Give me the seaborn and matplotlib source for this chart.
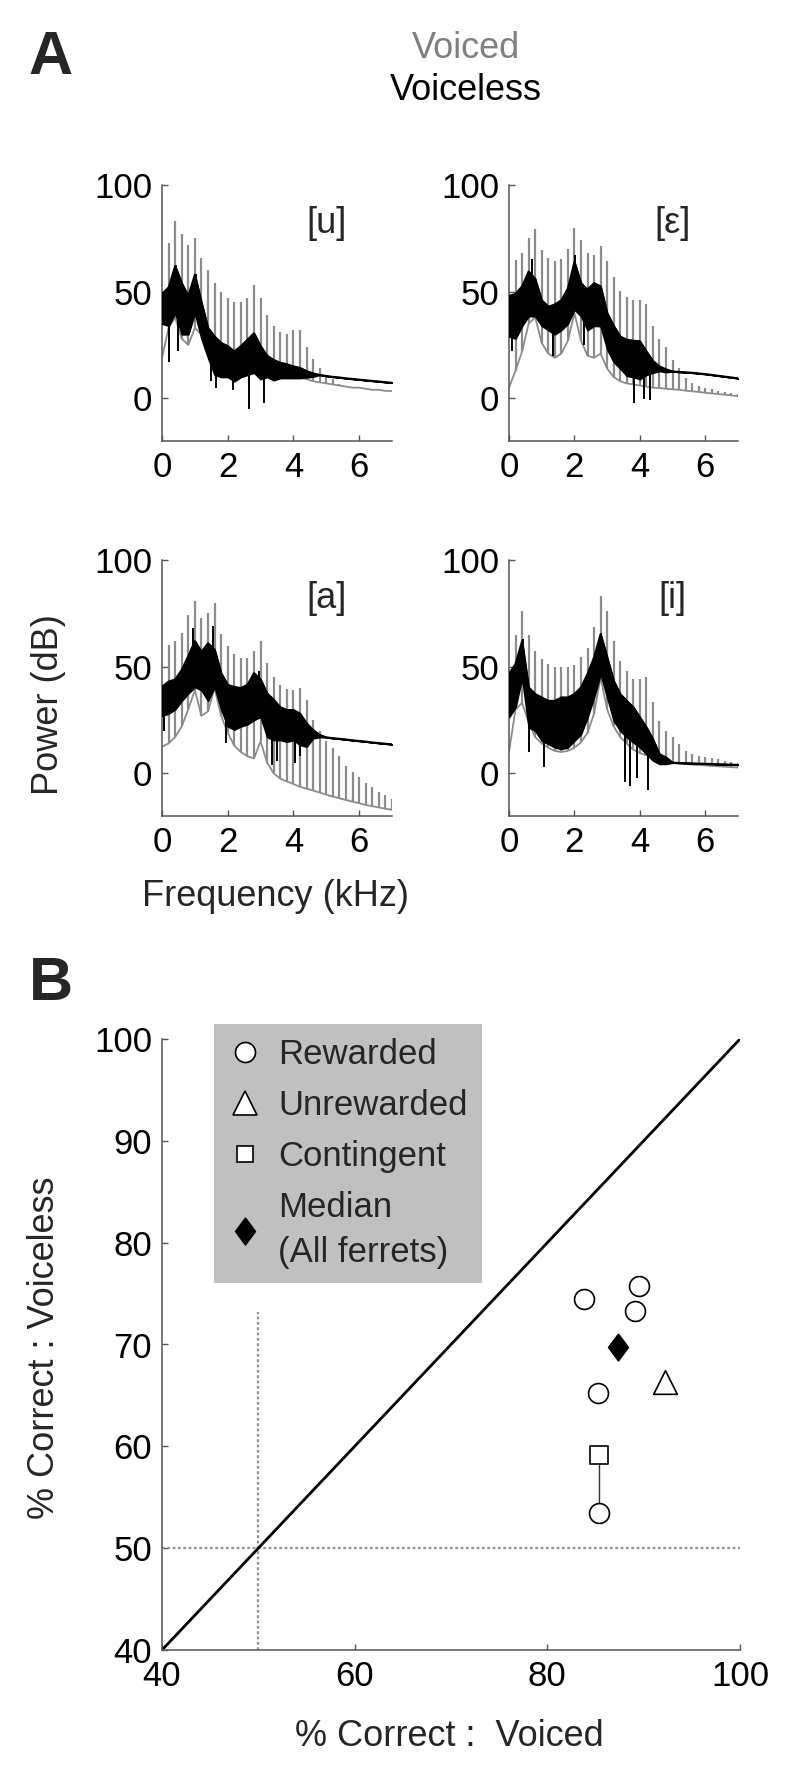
import numpy as np
import pandas as pd
import matplotlib
matplotlib.use("Agg")
import matplotlib.pyplot as plt
import seaborn as sns
from matplotlib.lines import Line2D

# ---- Panel A: spectra (dB) ----
freq_khz = [0.0, 0.2, 0.4, 0.6, 0.8, 1.0, 1.2, 1.4, 1.6, 1.8, 2.0, 2.2, 2.4, 2.6, 2.8,
            3.0, 3.2, 3.4, 3.6, 3.8, 4.0, 4.2, 4.4, 4.6, 4.8, 5.0, 5.2, 5.4, 5.6, 5.8,
            6.0, 6.2, 6.4, 6.6, 6.8, 7.0]

# [u]
u_base = [19, 33, 38, 28, 25, 33, 30, 22, 18, 15, 14, 13, 13, 15, 18, 14, 11, 10, 10, 10,
          10, 10, 9, 8, 7.5, 7, 6.5, 6, 5.5, 5, 5, 4.5, 4, 4, 3.5, 3.4]
u_tops = [73, 83, 77, 72, 75, 66, 60, 54, 50, 47, 45, 45, 47, 53, 47, 39, 34, 31, 30, 32,
          32, 24, 18.5, 14, 10.7, 9, 6.5, 5.8, 5.3, 5, 4.6, 4.2, 4.1, 3.7, 3.5]
u_hi = [49, 52, 62, 54, 48, 58, 45, 33, 29, 26, 24.5, 22, 24.5, 27.5, 30.5, 24.5, 20, 18,
        16.7, 16, 15, 14.3, 12.8, 11.7, 11, 10.5, 10.1, 9.8, 9.4, 9.1, 8.8, 8.5, 8.2, 7.9, 7.6, 7.3]
u_lo = [35, 34, 40, 30, 30, 40, 28, 19, 11, 10, 10, 8, 10, 11, 12, 9, 10, 8.5, 9.5, 9.5,
        9.5, 9.5, 9.8, 10.2, 11, 10.5, 10.1, 9.8, 9.4, 9.1, 8.8, 8.5, 8.2, 7.9, 7.6, 7.3]
u_spike_f = [0.22, 0.44, 0.5, 1.02, 1.5, 1.65, 2.15, 2.65, 3.1]
u_spike_db = [17, 62.5, 22, 58.5, 8, 5, 4, -5, -2]

# [ε]
e_base = [5, 13, 22, 35, 38, 26, 21, 19, 21, 27, 40, 27, 20, 19, 21, 14, 10, 8, 7, 6.5,
          6, 5.5, 5, 4.8, 4.5, 4.2, 4, 3.6, 3.3, 3, 2.6, 2.3, 2, 1.7, 1.4, 1]
e_tops = [65, 68, 75, 79.5, 69.5, 66, 64.5, 65.5, 70, 80, 74, 68, 67, 71.5, 64.5, 57, 50.5,
          47.5, 46, 46, 44, 34, 28, 24, 18, 14, 9.7, 7.3, 6, 5, 4.2, 3.5, 3, 2.5, 2]
e_hi = [48, 49, 52.5, 59.5, 56, 46, 43, 44, 46, 51.5, 64, 54, 51, 54, 52.5, 40, 34, 29,
        27.5, 27, 26.8, 22, 17.5, 15, 13.6, 12.6, 12.4, 12.2, 12, 11.7, 11.4, 11, 10.6, 10.2, 9.8, 9.4]
e_lo = [29, 28, 34, 38.5, 38.5, 34, 32, 30, 32, 35, 41.6, 38.5, 32, 34, 33.8, 23, 17, 14,
        10.5, 10, 9, 11, 12, 12.8, 12.3, 12.6, 12.4, 12.2, 12, 11.7, 11.4, 11, 10.6, 10.2, 9.8, 9.4]
e_spike_f = [0.1, 0.7, 1.35, 2.02, 2.3, 3.81, 4.12, 4.32]
e_spike_db = [22, 65.5, 20, 67, 25, -2, -0.5, -1]

# [a]
a_base = [12.5, 14, 17, 22, 30, 39, 27, 29, 40, 27, 19, 13, 10, 8, 7, 15, 5, 0, -2.5, -3.8,
          -5, -6.3, -7.2, -8.1, -9, -10, -10.9, -11.7, -12.5, -13.3, -14, -14.8, -15.4, -16, -16.6, -17.1]
a_tops = [60, 62, 66, 74, 81, 73, 75, 80, 65.5, 59.5, 56, 54, 54, 57.5, 62, 51.5, 45, 41.5,
          39.5, 39, 40, 34.5, 25, 20, 15, 12, 8, 3.5, 0.8, -1.6, -4.4, -6.3, -8.6, -10, -12]
a_hi = [40.6, 43, 44, 48.5, 55, 62, 57, 61, 58, 47, 41.5, 40.5, 40, 41.5, 47, 44, 37.5, 34.5,
        31, 29.7, 29.7, 28, 23.5, 20.3, 18, 16.9, 16.5, 16.2, 15.9, 15.5, 15.2, 14.9, 14.5, 14.2, 13.9, 13.6]
a_lo = [27, 28, 30, 34, 37.5, 40.5, 39, 34, 40.5, 30, 22, 20.5, 22, 23, 25, 26.5, 17, 15.6,
        15.6, 14.8, 15.6, 13.3, 12.5, 16.4, 17, 16.9, 16.5, 16.2, 15.9, 15.5, 15.2, 14.9, 14.5, 14.2, 13.9, 13.6]
a_spike_f = [0.05, 0.93, 1.56, 1.95, 2.95, 3.35, 3.5, 4.05, 4.2]
a_spike_db = [20, 68, 69, 14, 48, 4, 6, 5, 8]

# [i]
i_base = [10, 30, 33, 24, 17, 14, 12, 10.5, 10, 10.5, 12, 14.5, 19, 28, 45, 30, 22, 17, 14, 11,
          9.5, 8.5, 7.5, 6, 5.5, 5, 4.7, 4.4, 4.1, 3.9, 3.7, 3.5, 3.3, 3.1, 2.9, 2.7]
i_tops = [65, 76, 65, 57.5, 53.5, 51.3, 49.7, 49.7, 49.7, 51, 54.4, 58.8, 68.5, 83, 76.3, 62,
          52.5, 48, 44, 44, 45.3, 33.3, 24.7, 20, 17, 13.8, 10.6, 9, 8, 7.5, 7, 6.5, 6, 5.5, 5]
i_hi = [46.6, 51.3, 62, 40.3, 37.2, 35.6, 34, 34, 35.6, 35.6, 37.2, 40.3, 46.6, 54.4, 65.3,
        54.4, 43.4, 37.2, 34, 31, 26.3, 21.6, 16, 9, 7.5, 5, 4.9, 4.8, 4.7, 4.6, 4.5, 4.4, 4.3, 4.2, 4.1, 4]
i_lo = [26.3, 31, 45, 21.6, 20, 15.3, 13.8, 12.2, 11.4, 12.2, 15.3, 18.4, 26.3, 35.6, 46.6,
        35.6, 24.7, 20, 16.9, 14.5, 12.2, 9, 6, 4.4, 4.4, 5, 4.9, 4.8, 4.7, 4.6, 4.5, 4.4, 4.3, 4.2, 4.1, 4]
i_spike_f = [0.42, 0.62, 1.08, 2.82, 3.55, 3.7, 3.9, 4.25]
i_spike_db = [63, 10, 3, 66, -4, -6, -2, -8]

vowels = ['[u]', '[ε]', '[a]', '[i]']

# ---- Panel B: % correct per ferret ----
rewarded_voiced = [83.8, 89.5, 89.1, 85.3, 85.4]
rewarded_voiceless = [74.5, 75.7, 73.3, 65.2, 53.5]
unrewarded_voiced = [92.2]
unrewarded_voiceless = [66.3]
contingent_voiced = [85.4]
contingent_voiceless = [59.1]
median_voiced = [87.3]
median_voiceless = [69.8]
chance = 50

GREY = '#8c8c8c'
SPINE = '#555555'

sns.set_style('ticks')
plt.rcParams['font.family'] = ['Liberation Sans', 'DejaVu Sans']
plt.rcParams['axes.edgecolor'] = SPINE
plt.rcParams['axes.linewidth'] = 1.1

fig = plt.figure(figsize=(8, 17.84), dpi=100)
W, H = 800, 1784


def fig_axes(x0, y0, x1, y1):
    return fig.add_axes([x0 / W, 1 - y1 / H, (x1 - x0) / W, (y1 - y0) / H])


def style_axes(ax):
    sns.despine(ax=ax)
    ax.tick_params(direction='in', length=4, width=1, color=SPINE,
                   labelcolor='black', labelsize=25, pad=7)


def draw_spectrum(ax, base, tops, lo, hi, spike_f, spike_db, vowel):
    f = np.array(freq_khz)
    base = np.array(base, dtype=float)
    lo = np.array(lo, dtype=float)
    hi = np.array(hi, dtype=float)
    # voiced: smooth envelope plus harmonic spikes
    sns.lineplot(x=f, y=base, ax=ax, color=GREY, lw=1.3, estimator=None, sort=False)
    ax.vlines(f[1:], base[1:], tops, color=GREY, lw=1.6)
    # voiceless: dense noisy trace drawn as a band
    ax.fill_between(f, lo, hi, color='black', edgecolor='black', lw=1.2, zorder=3)
    sns.lineplot(x=f, y=hi, ax=ax, color='black', lw=1.4, estimator=None, sort=False, zorder=3)
    mid = np.interp(spike_f, f, (lo + hi) / 2)
    ax.vlines(spike_f, mid, spike_db, color='black', lw=1.4, zorder=3)
    ax.text(5.0, 82, vowel, ha='center', va='center', fontsize=26)
    ax.set_xlim(0, 7)
    ax.set_ylim(-20, 100)
    ax.set_xticks([0, 2, 4, 6])
    ax.set_yticks([0, 50, 100])
    ax.set_xlabel('')
    ax.set_ylabel('')
    style_axes(ax)


spectra = [
    (u_base, u_tops, u_lo, u_hi, u_spike_f, u_spike_db),
    (e_base, e_tops, e_lo, e_hi, e_spike_f, e_spike_db),
    (a_base, a_tops, a_lo, a_hi, a_spike_f, a_spike_db),
    (i_base, i_tops, i_lo, i_hi, i_spike_f, i_spike_db),
]
boxes = [(162, 185, 392, 441), (509, 185, 738, 441),
         (162, 560, 392, 816), (509, 560, 738, 816)]
for box, spec, vowel in zip(boxes, spectra, vowels):
    ax = fig_axes(*box)
    draw_spectrum(ax, *spec, vowel)

fig.text(51 / W, 1 - 58 / H, 'A', fontsize=44, fontweight='bold', ha='center', va='center')
fig.text(466 / W, 1 - 48 / H, 'Voiced', color='#808080', fontsize=26, ha='center', va='center')
fig.text(466 / W, 1 - 91 / H, 'Voiceless', color='black', fontsize=26, ha='center', va='center')
fig.text(48 / W, 1 - 705 / H, 'Power (dB)', rotation=90, fontsize=26, ha='center', va='center')
fig.text(275 / W, 1 - 896 / H, 'Frequency (kHz)', fontsize=26, ha='center', va='center')

# ---- Panel B ----
axb = fig_axes(162, 1039, 740, 1650)
axb.plot([40, 100], [40, 100], color='black', lw=2.0, zorder=2)
axb.axhline(chance, color='#909090', lw=1.6, ls=(0, (1.2, 1.2)), zorder=1)
axb.vlines(chance, 40, 73.2, color='#909090', lw=1.6, ls=(0, (1.2, 1.2)), zorder=1)
axb.plot([contingent_voiced[0], rewarded_voiced[4]],
         [contingent_voiceless[0], rewarded_voiceless[4]], color='#333333', lw=1.0, zorder=2)

diamond = [(0, 1), (0.74, 0), (0, -1), (-0.74, 0), (0, 1)]
sns.scatterplot(x=rewarded_voiced, y=rewarded_voiceless, ax=axb, marker='o', s=205,
                color='white', edgecolor='black', linewidth=1.2, zorder=3)
sns.scatterplot(x=unrewarded_voiced, y=unrewarded_voiceless, ax=axb, marker='^', s=290,
                color='white', edgecolor='black', linewidth=1.2, zorder=3)
sns.scatterplot(x=contingent_voiced, y=contingent_voiceless, ax=axb, marker='s', s=150,
                color='white', edgecolor='black', linewidth=1.2, zorder=3)
sns.scatterplot(x=median_voiced, y=median_voiceless, ax=axb, marker=diamond, s=380,
                color='black', edgecolor='black', linewidth=1.0, zorder=4)

axb.set_xlim(40, 100)
axb.set_ylim(40, 100)
axb.set_xticks([40, 60, 80, 100])
axb.set_yticks([40, 50, 60, 70, 80, 90, 100])
axb.set_xlabel('')
axb.set_ylabel('')
style_axes(axb)

handles = [
    Line2D([], [], ls='none', marker='o', ms=14.4, mfc='white', mec='black', mew=1.2),
    Line2D([], [], ls='none', marker='^', ms=17, mfc='white', mec='black', mew=1.2),
    Line2D([], [], ls='none', marker='s', ms=12.2, mfc='white', mec='black', mew=1.2),
    Line2D([], [], ls='none', marker=diamond, ms=19.5, mfc='black', mec='black'),
]
labels = ['Rewarded', 'Unrewarded', 'Contingent', 'Median\n(All ferrets)']
leg = axb.legend(handles, labels, loc='upper left', bbox_to_anchor=(214 / W, 1 - 1024 / H),
                 bbox_transform=fig.transFigure, fontsize=25, frameon=True, fancybox=False,
                 facecolor='#c0c0c0', edgecolor='none', framealpha=1, borderaxespad=0,
                 handlelength=1.0, handletextpad=0.45, labelspacing=0.52, borderpad=0.4)
for t in leg.get_texts():
    t.set_linespacing(1.45)

fig.text(51 / W, 1 - 984 / H, 'B', fontsize=44, fontweight='bold', ha='center', va='center')
fig.text(45 / W, 1 - 1348 / H, '% Correct : Voiceless', rotation=90, fontsize=26,
         ha='center', va='center')
fig.text(449 / W, 1 - 1737 / H, '% Correct :  Voiced', fontsize=26, ha='center', va='center')

fig.savefig('out.png', dpi=100)
